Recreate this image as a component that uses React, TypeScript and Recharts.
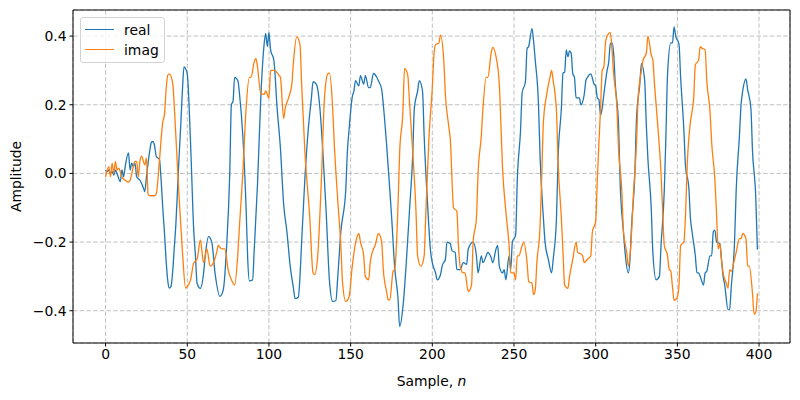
import React from 'react';
import { LineChart, Line, XAxis, YAxis, CartesianGrid, ReferenceLine } from 'recharts';

const seriesNames = ['real', 'imag'];
const seriesColors = ['#1f77b4', '#ff7f0e'];
const xTicks = [0, 50, 100, 150, 200, 250, 300, 350, 400];
const yTicks = [-0.4, -0.2, 0, 0.2, 0.4];
const xDomain: [number, number] = [-19.95, 418.95];
const yDomain: [number, number] = [-0.494, 0.476];

const realSeries: [number, number][] = [
  [0,0.01],[1,0.005],[2,0.01],[3,0],[4,0.005],[5,-0.005],[6,0.01],[7,0],[9,-0.024],[10,0.01],[11,-0.01],[12,0.02],[14,0.06],[15,0.01],[16,0.03],[17,0.02],[18,0.03],[19,-0.01],[21,-0.02],[23,-0.04],[24,-0.053],[25,-0.01],[27,0.065],[28,0.09],[29,0.093],[30,0.08],[31,0.05],[33,0.04],[34,-0.02],[35,-0.1],[36,-0.17],[37,-0.25],[38,-0.31],[39,-0.334],[40,-0.33],[41,-0.29],[42,-0.22],[43,-0.15],[44,-0.05],[45,0.05],[46,0.14],[47,0.24],[48,0.31],[49,0.305],[50,0.29],[52,0.09],[54,-0.17],[55,-0.24],[56,-0.32],[58,-0.335],[60,-0.29],[61,-0.24],[63,-0.184],[65,-0.2],[67,-0.29],[70,-0.358],[72,-0.34],[74,-0.22],[76,0],[77,0.2],[78,0.21],[79,0.28],[81,0.27],[82,0.23],[84,0.11],[86,-0.1],[87,-0.25],[88,-0.313],[90,-0.31],[91,-0.22],[93,-0.03],[95,0.22],[97,0.374],[98,0.408],[99,0.37],[100,0.41],[101,0.36],[103,0.33],[105,0.19],[107,0.075],[109,-0.09],[111,-0.17],[113,-0.27],[115,-0.334],[116,-0.365],[118,-0.36],[119,-0.3],[120,-0.2],[122,-0.014],[124,0.125],[126,0.22],[127,0.267],[129,0.26],[131,0.2],[133,0.063],[135,-0.11],[137,-0.31],[139,-0.373],[141,-0.37],[142,-0.31],[144,-0.17],[147,-0.05],[148,0.063],[149,0.125],[151,0.223],[152,0.24],[153,0.27],[155,0.255],[156,0.285],[158,0.26],[159,0.285],[161,0.25],[162,0.25],[164,0.291],[166,0.28],[167,0.27],[169,0.245],[170,0.2],[172,0.085],[174,-0.05],[175,-0.12],[177,-0.276],[179,-0.365],[180,-0.446],[182,-0.39],[184,-0.265],[186,-0.11],[188,0.054],[189,0.19],[191,0.24],[192,0.27],[194,0.24],[195,0.11],[197,-0.082],[199,-0.23],[200,-0.26],[202,-0.29],[203,-0.31],[205,-0.295],[206,-0.27],[208,-0.25],[209,-0.2],[211,-0.205],[212,-0.225],[214,-0.23],[215,-0.28],[217,-0.28],[219,-0.26],[221,-0.265],[222,-0.22],[225,-0.2],[227,-0.24],[228,-0.29],[230,-0.24],[231,-0.26],[233,-0.24],[234,-0.23],[236,-0.245],[237,-0.26],[239,-0.22],[240,-0.21],[241,-0.27],[243,-0.29],[244,-0.28],[245,-0.31],[247,-0.24],[248,-0.28],[249,-0.2],[251,-0.18],[252,-0.02],[254,0.125],[255,0.235],[257,0.267],[258,0.364],[259,0.37],[261,0.422],[262,0.385],[263,0.33],[265,0.2],[266,0.045],[268,-0.13],[269,-0.2],[271,-0.25],[273,-0.29],[274,-0.25],[276,-0.13],[277,0.045],[279,0.19],[280,0.292],[281,0.295],[282,0.36],[283,0.34],[284,0.357],[285,0.35],[286,0.29],[287,0.28],[288,0.22],[290,0.22],[291,0.2],[293,0.23],[294,0.27],[295,0.28],[297,0.29],[299,0.26],[300,0.255],[301,0.22],[302,0.215],[303,0.17],[304,0.19],[305,0.23],[307,0.3],[308,0.325],[309,0.379],[310,0.38],[311,0.35],[312,0.26],[314,0.14],[315,-0.03],[317,-0.17],[318,-0.23],[320,-0.29],[321,-0.25],[322,-0.15],[324,0],[325,0.16],[327,0.26],[328,0.32],[330,0.27],[331,0.14],[332,0.04],[334,-0.1],[335,-0.23],[337,-0.31],[339,-0.3],[340,-0.21],[342,-0.05],[343,0.11],[344,0.29],[346,0.38],[347,0.38],[348,0.427],[349,0.4],[351,0.376],[352,0.28],[354,0.125],[355,0.02],[357,-0.04],[358,-0.13],[359,-0.17],[361,-0.24],[362,-0.29],[363,-0.29],[364,-0.3],[366,-0.325],[367,-0.29],[368,-0.285],[370,-0.24],[371,-0.24],[372,-0.17],[373,-0.165],[374,-0.2],[376,-0.205],[377,-0.25],[378,-0.3],[379,-0.325],[381,-0.397],[382,-0.395],[383,-0.33],[385,-0.2],[386,-0.05],[388,0.11],[389,0.2],[390,0.24],[392,0.275],[393,0.245],[395,0.19],[396,0.065],[398,-0.07],[399,-0.222]
];

const imagSeries: [number, number][] = [
  [0,-0.01],[2,0.02],[3,-0.01],[4,0.03],[5,0],[6,0.035],[7,0.01],[8,0.015],[10,-0.01],[12,-0.02],[14,-0.025],[15,-0.02],[17,0.02],[18,0.035],[19,0.035],[20,-0.01],[21,0.035],[22,0.05],[24,0.025],[25,0.045],[26,-0.06],[27,-0.065],[30,-0.065],[31,-0.06],[33,0.04],[35,0.15],[36,0.17],[37,0.24],[38,0.285],[39,0.29],[41,0.265],[43,0.11],[45,-0.07],[47,-0.225],[49,-0.334],[50,-0.33],[52,-0.31],[54,-0.26],[56,-0.25],[58,-0.194],[60,-0.26],[62,-0.22],[64,-0.27],[66,-0.26],[68,-0.23],[69,-0.21],[71,-0.22],[73,-0.22],[75,-0.28],[77,-0.31],[79,-0.325],[81,-0.23],[82,-0.15],[84,0],[86,0.19],[88,0.28],[89,0.28],[91,0.325],[92,0.335],[93,0.31],[95,0.233],[97,0.23],[98,0.24],[100,0.22],[101,0.3],[103,0.3],[106,0.287],[107,0.28],[109,0.16],[110,0.19],[112,0.22],[114,0.26],[115,0.325],[117,0.398],[119,0.375],[120,0.26],[122,0.063],[125,-0.13],[127,-0.29],[128,-0.295],[130,-0.23],[132,-0.03],[134,0.22],[136,0.29],[137,0.292],[139,0.19],[140,0.085],[142,-0.07],[144,-0.21],[145,-0.315],[147,-0.373],[149,-0.36],[151,-0.27],[153,-0.203],[155,-0.175],[156,-0.2],[158,-0.24],[159,-0.3],[161,-0.31],[162,-0.26],[164,-0.22],[165,-0.21],[167,-0.175],[169,-0.2],[170,-0.28],[172,-0.344],[173,-0.368],[174,-0.368],[176,-0.285],[177,-0.28],[179,-0.092],[180,0.06],[182,0.18],[183,0.306],[185,0.285],[186,0.21],[188,0.063],[190,-0.11],[191,-0.24],[193,-0.27],[195,-0.24],[196,-0.12],[198,0.11],[200,0.25],[201,0.345],[202,0.375],[204,0.38],[205,0.403],[207,0.33],[208,0.23],[210,0.14],[211,0.1],[213,-0.1],[215,-0.11],[216,-0.21],[217,-0.27],[219,-0.29],[220,-0.29],[222,-0.344],[224,-0.325],[225,-0.2],[227,-0.13],[228,0],[230,0.11],[231,0.19],[233,0.28],[234,0.28],[236,0.35],[237,0.367],[239,0.34],[241,0.26],[242,0.14],[243,0.015],[245,-0.11],[247,-0.21],[248,-0.29],[250,-0.29],[251,-0.31],[252,-0.24],[253,-0.24],[255,-0.21],[256,-0.2],[258,-0.26],[259,-0.315],[261,-0.32],[262,-0.353],[263,-0.34],[264,-0.26],[266,-0.15],[267,-0.005],[268,0.15],[270,0.23],[272,0.28],[273,0.3],[274,0.27],[276,0.18],[277,0.03],[279,-0.13],[280,-0.23],[281,-0.325],[283,-0.335],[284,-0.3],[286,-0.25],[288,-0.2],[289,-0.23],[291,-0.235],[292,-0.24],[293,-0.26],[295,-0.25],[297,-0.24],[298,-0.17],[300,-0.14],[301,-0.02],[302,0.09],[303,0.19],[304,0.3],[305,0.31],[306,0.38],[307,0.4],[309,0.41],[310,0.36],[311,0.29],[313,0.19],[314,0.07],[316,-0.05],[317,-0.17],[319,-0.23],[320,-0.27],[321,-0.24],[322,-0.17],[323,-0.07],[325,0.09],[326,0.22],[328,0.3],[329,0.33],[331,0.35],[332,0.4],[334,0.345],[335,0.33],[336,0.26],[338,0.14],[340,0],[341,-0.11],[342,-0.21],[344,-0.24],[345,-0.28],[346,-0.285],[347,-0.33],[348,-0.37],[350,-0.36],[351,-0.325],[352,-0.21],[354,-0.2],[355,-0.12],[356,0.02],[358,0.15],[359,0.18],[360,0.22],[361,0.316],[363,0.33],[364,0.369],[365,0.365],[367,0.36],[368,0.27],[370,0.18],[371,0.09],[373,-0.02],[374,-0.12],[375,-0.22],[376,-0.205],[377,-0.25],[378,-0.29],[380,-0.32],[381,-0.335],[382,-0.28],[383,-0.285],[385,-0.25],[386,-0.23],[388,-0.19],[389,-0.19],[390,-0.175],[392,-0.19],[393,-0.27],[394,-0.27],[396,-0.35],[397,-0.41],[398,-0.405],[399,-0.35]
];

const toRows = (pts: [number, number][]) => pts.map(([n, v]) => ({ n, v }));
const seriesData = [toRows(realSeries), toRows(imagSeries)];

const FONT = 'DejaVu Sans, sans-serif';
const fmtY = (v: number) => (v < 0 ? '\u2212' : '') + Math.abs(v).toFixed(1);

const XLabel = (props: any) => {
  const vb = props.viewBox || { x: 73, y: 343, width: 717, height: 57 };
  return (
    <text x={vb.x + vb.width / 2} y={381} textAnchor="middle" dominantBaseline="central" fontFamily={FONT} fontSize={13.9} fill="#000">
      Sample, <tspan fontStyle="italic">n</tspan>
    </text>
  );
};

const YLabel = (props: any) => {
  const vb = props.viewBox || { x: 0, y: 10, width: 73, height: 333 };
  const cy = vb.y + vb.height / 2;
  return (
    <text x={16} y={cy} textAnchor="middle" dominantBaseline="central" fontFamily={FONT} fontSize={13.9} fill="#000" transform={`rotate(-90 16 ${cy})`}>
      Amplitude
    </text>
  );
};

export default function App() {
  return (
    <div style={{ position: 'absolute', left: 0, top: 0, width: 800, height: 400, background: '#fff' }}>
      <LineChart width={800} height={400} margin={{ top: 10, right: 10, bottom: 0, left: 0 }}>
        <CartesianGrid stroke="#b0b0b0" strokeDasharray="4.5 2.2" strokeWidth={0.8} />
        <XAxis
          type="number"
          dataKey="n"
          domain={xDomain}
          ticks={xTicks}
          allowDataOverflow
          height={57}
          stroke="#000"
          tickSize={3.5}
          tickMargin={3}
          tick={{ fill: '#000', fontSize: 13.9, fontFamily: FONT }}
          label={<XLabel />}
        />
        <YAxis
          type="number"
          domain={yDomain}
          ticks={yTicks}
          allowDataOverflow
          width={73}
          stroke="#000"
          tickSize={3.5}
          tickMargin={3}
          tickFormatter={fmtY}
          tick={{ fill: '#000', fontSize: 13.9, fontFamily: FONT }}
          label={<YLabel />}
        />
        <ReferenceLine y={yDomain[1]} stroke="#000" strokeWidth={1} ifOverflow="extendDomain" />
        <ReferenceLine x={xDomain[1]} stroke="#000" strokeWidth={1} ifOverflow="extendDomain" />
        {seriesNames.map((name, i) => (
          <Line
            key={name}
            name={name}
            data={seriesData[i]}
            dataKey="v"
            type="monotone"
            dot={false}
            activeDot={false}
            stroke={seriesColors[i]}
            strokeWidth={1.3}
            isAnimationActive={false}
          />
        ))}
      </LineChart>
      <div
        style={{
          position: 'absolute', left: 80, top: 17, width: 85, height: 46, boxSizing: 'border-box',
          border: '1px solid #d3d3d3', borderRadius: 3, background: 'rgba(255,255,255,0.8)',
          fontFamily: FONT, fontSize: 13.9, color: '#000',
        }}
      >
        {seriesNames.map((name, i) => (
          <div key={name} style={{ position: 'absolute', left: 0, top: i === 0 ? 3 : 23, height: 18, width: 84 }}>
            <div style={{ position: 'absolute', left: 4, top: 8, width: 29, height: 0, borderTop: `1.3px solid ${seriesColors[i]}` }} />
            <span style={{ position: 'absolute', left: 43, top: 0, lineHeight: '18px' }}>{name}</span>
          </div>
        ))}
      </div>
    </div>
  );
}
